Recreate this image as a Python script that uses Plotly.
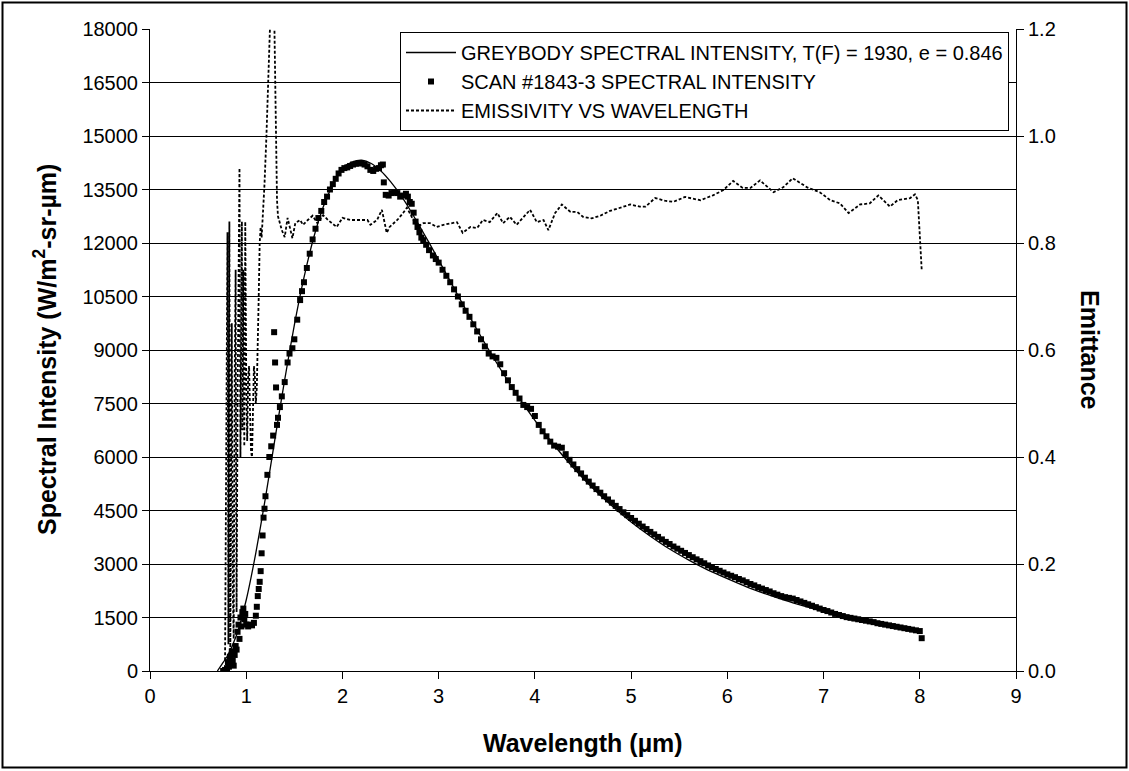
import plotly.graph_objects as go

# ---------------- data ----------------
# Greybody spectral intensity (W/m2-sr-um) vs wavelength (um)
grey_wl = [0.70, 0.75, 0.80, 0.90, 1.00, 1.10, 1.20, 1.30, 1.40, 1.50, 1.60, 1.70, 1.80, 1.90,
           2.00, 2.10, 2.20, 2.30, 2.40, 2.50, 2.60, 2.70, 2.80, 2.90, 3.00, 3.20, 3.40,
           3.60, 3.80, 4.00, 4.20, 4.40, 4.60, 4.80, 5.00, 5.20, 5.40, 5.60, 5.80, 6.00,
           6.20, 6.40, 6.60, 6.80, 7.00, 7.20, 7.40, 7.60, 7.80, 8.00]
grey_val = [0, 200, 400, 1010, 1990, 3310, 4860, 6530, 8170, 9700, 11030, 12140, 13010, 13640,
            14110, 14270, 14320, 14230, 14020, 13720, 13360, 12940, 12480, 12010, 11520, 10530, 9560,
            8650, 7800, 7030, 6330, 5700, 5130, 4630, 4180, 3780, 3420, 3110, 2830, 2590,
            2360, 2160, 1980, 1820, 1670, 1540, 1420, 1310, 1210, 1120]

# Scan #1843-3 spectral intensity
scan_wl = [0.76, 0.78, 0.80, 0.81, 0.82, 0.83, 0.84, 0.85, 0.86, 0.87, 0.88, 0.89, 0.90,
           0.91, 0.92, 0.93, 0.94, 0.95, 0.96, 0.97, 0.98, 0.99, 1.00, 1.02, 1.04, 1.06,
           1.08, 1.10, 1.11, 1.12, 1.13, 1.14, 1.15, 1.16, 1.17, 1.18, 1.19, 1.20, 1.22,
           1.24, 1.26, 1.28, 1.29, 1.30, 1.31, 1.32, 1.33, 1.35, 1.37, 1.40, 1.43, 1.45,
           1.48, 1.50, 1.53, 1.56, 1.58, 1.60, 1.63, 1.66, 1.69, 1.72, 1.75, 1.78, 1.81,
           1.84, 1.87, 1.90, 1.93, 1.96, 1.99, 2.02, 2.05, 2.08, 2.11, 2.14, 2.17, 2.20,
           2.23, 2.26, 2.29, 2.32, 2.35, 2.38, 2.40, 2.42, 2.43, 2.45, 2.48, 2.51, 2.54,
           2.57, 2.60, 2.63, 2.66, 2.68, 2.70, 2.72, 2.74, 2.76, 2.78, 2.80, 2.82, 2.84,
           2.87, 2.90, 2.94, 2.97,
           3.00, 3.04, 3.08, 3.12, 3.16, 3.20, 3.24, 3.28, 3.32, 3.36, 3.40, 3.44, 3.48,
           3.52, 3.56, 3.60, 3.64, 3.68, 3.72, 3.76, 3.80, 3.84, 3.88, 3.92, 3.96, 4.00,
           4.04, 4.08, 4.12, 4.16, 4.20, 4.24, 4.28, 4.32, 4.36, 4.40, 4.44, 4.48, 4.52,
           4.56, 4.60, 4.64, 4.68, 4.72, 4.76, 4.80, 4.84, 4.88, 4.92, 4.96, 5.00, 5.04,
           5.08, 5.12, 5.16, 5.20, 5.24, 5.28, 5.32, 5.36, 5.40, 5.44, 5.48, 5.52, 5.56,
           5.60, 5.64, 5.68, 5.72, 5.76, 5.80, 5.84, 5.88, 5.92, 5.96, 6.00, 6.04, 6.08,
           6.12, 6.16, 6.20, 6.24, 6.28, 6.32, 6.36, 6.40, 6.44, 6.48, 6.52, 6.56, 6.60,
           6.64, 6.68, 6.72, 6.76, 6.80, 6.84, 6.88, 6.92, 6.96, 7.00, 7.04, 7.08, 7.12,
           7.16, 7.20, 7.24, 7.28, 7.32, 7.36, 7.40, 7.44, 7.48, 7.52, 7.56, 7.60, 7.64,
           7.68, 7.72, 7.76, 7.80, 7.84, 7.88, 7.92, 7.96, 8.00, 8.02]
scan_val = [0, 30, 80, 250, 120, 400, 180, 550, 300, 150, 450, 700, 600,
            1100, 1300, 900, 1500, 1250, 1650, 1750, 1450, 1600, 1300, 1250, 1300, 1280,
            1350, 1550, 1800, 2100, 2300, 2500, 2800, 3300, 3800, 4300, 4550, 4900, 5500,
            6000, 6300, 6600, 9500, 8650, 7950, 6900, 7100, 7400, 7700, 8100, 8650, 8900,
            9050, 9300, 9850, 10400, 10650, 10900, 11300, 11700, 12100, 12400, 12700, 12900, 13150,
            13300, 13500, 13650, 13800, 13950, 14050, 14100, 14120, 14160, 14200, 14220, 14240, 14230,
            14200, 14150, 14050, 14020, 14080, 14100, 14180, 14200, 13700, 13350, 13330, 13400, 13420,
            13400, 13300, 13330, 13380, 13300, 13150, 13100, 12850, 12600, 12450, 12300, 12150, 12080,
            11950, 11800, 11650, 11550,
            11450, 11250, 11080, 10900, 10700, 10500, 10280, 10100, 9930, 9720, 9520, 9300, 9100,
            8900, 8820, 8780, 8600, 8350, 8150, 7960, 7800, 7640, 7460, 7400, 7350, 7150,
            6900, 6720, 6580, 6430, 6320, 6290, 6260, 6080, 5920, 5790, 5660, 5540, 5420,
            5310, 5200, 5100, 5000, 4900, 4810, 4720, 4630, 4540, 4450, 4370, 4290, 4210,
            4130, 4050, 3980, 3900, 3830, 3760, 3690, 3620, 3560, 3490, 3430, 3370, 3310,
            3250, 3190, 3130, 3080, 3020, 2960, 2910, 2860, 2810, 2760, 2710, 2670, 2630,
            2580, 2540, 2490, 2440, 2400, 2350, 2310, 2270, 2230, 2180, 2140, 2100, 2070,
            2050, 2030, 1990, 1950, 1910, 1870, 1830, 1790, 1750, 1710, 1680, 1640, 1600,
            1570, 1540, 1510, 1490, 1470, 1450, 1430, 1410, 1390, 1370, 1340, 1320, 1300,
            1280, 1260, 1240, 1220, 1200, 1180, 1160, 1140, 1120, 920]

# Emissivity vs wavelength (right axis)
emis_wl = [0.78, 0.79, 0.80, 0.805, 0.81, 0.815, 0.82, 0.825, 0.83, 0.835, 0.84, 0.85,
           0.86, 0.87, 0.88, 0.89, 0.895, 0.90, 0.91, 0.92, 0.93, 0.935, 0.94, 0.95,
           0.955, 0.96, 0.97, 0.98, 0.99, 1.00, 1.01, 1.02, 1.03, 1.04, 1.05, 1.06,
           1.07, 1.08, 1.09, 1.10, 1.11, 1.12, 1.13, 1.14, 1.15, 1.16, 1.17, 1.19,
           1.21, 1.23, 1.25, 1.27, 1.29, 1.30, 1.31, 1.32, 1.33, 1.37, 1.40, 1.43,
           1.48, 1.51, 1.56, 1.59, 1.64, 1.69, 1.74, 1.80, 1.85, 1.94, 2.00, 2.08,
           2.15, 2.26, 2.29, 2.36, 2.41, 2.46, 2.49, 2.57, 2.63, 2.67, 2.72, 2.78,
           2.84, 2.91, 2.98, 3.05, 3.19, 3.25, 3.33, 3.40, 3.46, 3.53, 3.61, 3.67,
           3.74, 3.81, 3.95, 4.02, 4.09, 4.14, 4.21, 4.28, 4.37, 4.44, 4.50, 4.59,
           4.68, 4.78, 4.89, 4.99, 5.09, 5.15, 5.25, 5.35, 5.44, 5.56, 5.72, 5.85,
           5.96, 6.06, 6.16, 6.24, 6.34, 6.48, 6.58, 6.68, 6.83, 6.96, 7.07, 7.17,
           7.26, 7.38, 7.48, 7.57, 7.69, 7.77, 7.90, 7.95, 7.98, 8.00, 8.02]
emis_val = [0.02, 0.30, 0.70, 0.82, 0.45, 0.05, 0.60, 0.84, 0.35, 0.03, 0.25, 0.65,
            0.15, 0.06, 0.55, 0.75, 0.35, 0.11, 0.50, 0.80, 0.94, 0.60, 0.40, 0.70,
            0.84, 0.45, 0.75, 0.42, 0.84, 0.55, 0.43, 0.55, 0.57, 0.48, 0.41, 0.40,
            0.47, 0.57, 0.55, 0.50, 0.53, 0.60, 0.70, 0.80, 0.83, 0.81, 0.84, 0.91,
            1.00, 1.12, 1.22, 1.26, 1.24, 1.12, 0.98, 0.88, 0.85, 0.824, 0.811, 0.847,
            0.809, 0.837, 0.843, 0.834, 0.843, 0.851, 0.837, 0.852, 0.843, 0.830, 0.847, 0.843,
            0.843, 0.843, 0.834, 0.843, 0.862, 0.819, 0.830, 0.843, 0.856, 0.866, 0.849, 0.830,
            0.837, 0.837, 0.830, 0.834, 0.839, 0.819, 0.830, 0.828, 0.843, 0.839, 0.856, 0.837,
            0.849, 0.834, 0.862, 0.839, 0.843, 0.824, 0.856, 0.872, 0.858, 0.858, 0.849, 0.846,
            0.851, 0.860, 0.866, 0.872, 0.868, 0.868, 0.884, 0.879, 0.877, 0.886, 0.880, 0.889,
            0.899, 0.916, 0.903, 0.903, 0.917, 0.895, 0.904, 0.921, 0.904, 0.895, 0.880, 0.874,
            0.856, 0.872, 0.874, 0.889, 0.868, 0.880, 0.884, 0.891, 0.880, 0.80, 0.75]

x_ticks = [0, 1, 2, 3, 4, 5, 6, 7, 8, 9]
y_ticks = [0, 1500, 3000, 4500, 6000, 7500, 9000, 10500, 12000, 13500, 15000, 16500, 18000]
y2_ticks = [0.0, 0.2, 0.4, 0.6, 0.8, 1.0, 1.2]

# ---------------- figure ----------------
W, H = 1129, 771
ML, MR, MT, MB = 150, 113, 29, 100
PW, PH = W - ML - MR, H - MT - MB


def px(x):
    return (x - ML) / PW


def py(y):
    return (H - MB - y) / PH


FONT = "Liberation Sans, Arial, sans-serif"

fig = go.Figure()
fig.add_trace(go.Scatter(
    x=grey_wl, y=grey_val, mode="lines", line=dict(color="black", width=1.3, shape="spline", smoothing=0.6),
    name="GREYBODY SPECTRAL INTENSITY, T(F) = 1930, e = 0.846"))
fig.add_trace(go.Scatter(
    x=scan_wl, y=scan_val, mode="markers",
    marker=dict(symbol="square", size=6, color="black", line=dict(width=0)),
    name="SCAN #1843-3 SPECTRAL INTENSITY"))
fig.add_trace(go.Scatter(
    x=emis_wl, y=emis_val, mode="lines", yaxis="y2",
    line=dict(color="black", width=1.8, dash="3px,2px"),
    name="EMISSIVITY VS WAVELENGTH"))

fig.update_layout(
    width=W, height=H,
    margin=dict(l=ML, r=MR, t=MT, b=MB, pad=0),
    paper_bgcolor="white", plot_bgcolor="white",
    font=dict(family=FONT, size=20, color="black"),
    showlegend=True,
    legend=dict(x=px(400), y=py(32), xanchor="left", yanchor="top",
                bgcolor="white", bordercolor="black", borderwidth=1,
                font=dict(family=FONT, size=20, color="black"),
                itemwidth=50, tracegroupgap=0),
    xaxis=dict(range=[0, 9], tickvals=x_ticks, ticks="outside", ticklen=7, tickcolor="black",
               showline=True, linecolor="black", linewidth=1, showgrid=False, zeroline=False,
               tickfont=dict(size=20)),
    yaxis=dict(range=[0, 18000], tickvals=y_ticks, ticktext=[str(v) for v in y_ticks],
               ticks="outside", ticklen=7, tickcolor="black",
               showline=True, linecolor="black", linewidth=1, showgrid=True, gridcolor="black",
               gridwidth=1, zeroline=False, tickfont=dict(size=20)),
    yaxis2=dict(range=[0, 1.2], tickvals=y2_ticks, tickformat=".1f", overlaying="y", side="right",
                ticks="outside", ticklen=7, tickcolor="black", showline=True, linecolor="black",
                linewidth=1, showgrid=False, zeroline=False, tickfont=dict(size=20)),
    annotations=[
        dict(text="<b>Wavelength (µm)</b>", x=0.5, y=py(743), xref="paper", yref="paper",
             xanchor="center", yanchor="middle", showarrow=False,
             font=dict(family=FONT, size=25, color="black")),
        dict(text="<b>Spectral Intensity (W/m<sup>2</sup>-sr-µm)</b>", x=px(45), y=py(350),
             xref="paper", yref="paper", xanchor="center", yanchor="middle", textangle=-90,
             showarrow=False, font=dict(family=FONT, size=25, color="black")),
        dict(text="<b>Emittance</b>", x=px(1090), y=py(350), xref="paper", yref="paper",
             xanchor="center", yanchor="middle", textangle=90, showarrow=False,
             font=dict(family=FONT, size=25, color="black")),
    ],
    shapes=[dict(type="rect", xref="paper", yref="paper",
                 x0=px(2.5), x1=px(1126.5), y0=py(767.5), y1=py(2.5),
                 line=dict(color="black", width=2), fillcolor="rgba(0,0,0,0)", layer="below")],
)

fig.write_html("out.html")
